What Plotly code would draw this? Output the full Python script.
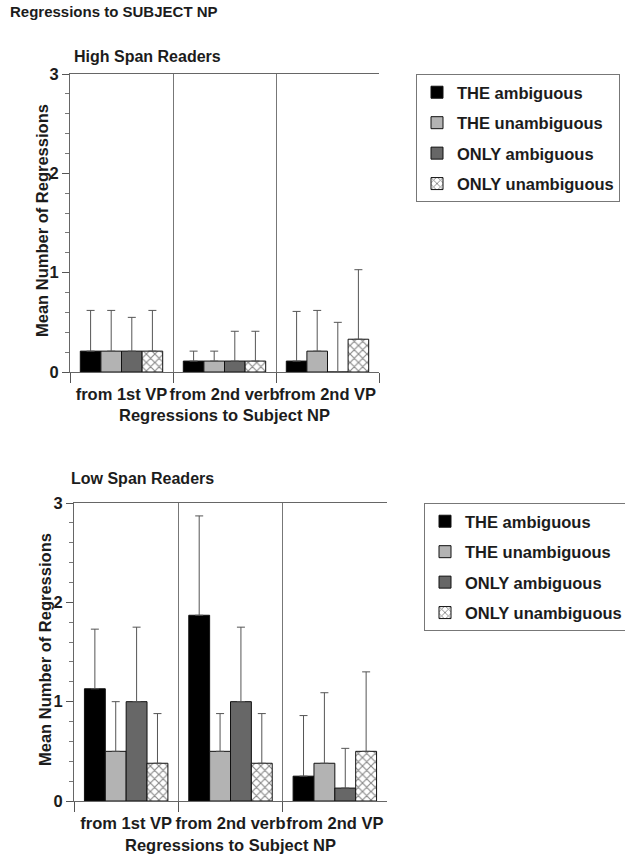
import plotly.graph_objects as go

W, H = 625, 856

categories = ["from 1st VP", "from 2nd verb", "from 2nd VP"]
series_names = ["THE ambiguous", "THE unambiguous", "ONLY ambiguous", "ONLY unambiguous"]

# High span readers: means and upper error-bar tops
high_means = {
    "THE ambiguous":    [0.21, 0.11, 0.11],
    "THE unambiguous":  [0.21, 0.11, 0.21],
    "ONLY ambiguous":   [0.21, 0.11, 0.00],
    "ONLY unambiguous": [0.21, 0.11, 0.33],
}
high_err_top = {
    "THE ambiguous":    [0.62, 0.21, 0.61],
    "THE unambiguous":  [0.62, 0.21, 0.62],
    "ONLY ambiguous":   [0.55, 0.41, 0.50],
    "ONLY unambiguous": [0.62, 0.41, 1.03],
}
# Low span readers
low_means = {
    "THE ambiguous":    [1.13, 1.87, 0.25],
    "THE unambiguous":  [0.50, 0.50, 0.38],
    "ONLY ambiguous":   [1.00, 1.00, 0.13],
    "ONLY unambiguous": [0.38, 0.38, 0.50],
}
low_err_top = {
    "THE ambiguous":    [1.73, 2.87, 0.86],
    "THE unambiguous":  [1.00, 0.88, 1.09],
    "ONLY ambiguous":   [1.75, 1.75, 0.53],
    "ONLY unambiguous": [0.88, 0.88, 1.30],
}

styles = {
    "THE ambiguous":    dict(color="#000000"),
    "THE unambiguous":  dict(color="#b3b3b3"),
    "ONLY ambiguous":   dict(color="#676767"),
    "ONLY unambiguous": dict(color="#ffffff",
                             pattern=dict(shape="x", fgcolor="#111111", bgcolor="#ffffff",
                                          size=6, solidity=0.35)),
}

FONT = "Liberation Sans, Arial, sans-serif"
TXT = "#1c1c1c"

def px_x(p):
    return p / W

def px_y(p):
    return 1 - p / H

fig = go.Figure()

for panel, (means, tops, xa, ya, leg) in enumerate([
    (high_means, high_err_top, "x", "y", "legend"),
    (low_means, low_err_top, "x2", "y2", "legend2"),
]):
    for name in series_names:
        vals = means[name]
        errs = [t - v for t, v in zip(tops[name], vals)]
        fig.add_trace(go.Bar(
            x=categories, y=vals, name=name,
            xaxis=xa, yaxis=ya, legend=leg, legendgroup=f"{leg}-{name}",
            marker=dict(line=dict(color="#111111", width=1), **styles[name]),
            error_y=dict(type="data", array=errs, arrayminus=[0] * len(errs),
                         symmetric=False, color="#555555", thickness=1, width=4),
        ))

axis_common_x = dict(
    type="category", tickson="boundaries", ticks="outside", ticklen=10,
    tickcolor="#555555", showline=True, linecolor="#666666", linewidth=1,
    mirror=True, showgrid=True, gridcolor="#777777", gridwidth=1,
    tickangle=0, automargin=False, ticklabelstandoff=7,
    tickfont=dict(family=FONT, size=16.5, color=TXT, weight="bold"),
    zeroline=False, fixedrange=True,
)
axis_common_y = dict(
    range=[0, 3], dtick=1, ticks="outside", ticklen=7, tickcolor="#555555",
    showline=True, linecolor="#666666", linewidth=1, showgrid=False, zeroline=False,
    minor=dict(dtick=0.2, ticks="outside", ticklen=4, tickcolor="#777777", showgrid=False),
    tickfont=dict(family=FONT, size=16.5, color=TXT, weight="bold"),
    automargin=False, fixedrange=True,
)

top_box = (70, 379, 74, 372)
bot_box = (74, 387, 503, 801)

legend_common = dict(
    xanchor="left", yanchor="top",
    bordercolor="#777777", borderwidth=1, bgcolor="white",
    font=dict(family=FONT, size=16.5, color=TXT, weight="bold"),
    tracegroupgap=6, itemwidth=30,
)

fig.update_layout(
    width=W, height=H,
    margin=dict(l=0, r=0, t=0, b=0, autoexpand=False),
    paper_bgcolor="white", plot_bgcolor="white",
    barmode="group", bargap=0.2, bargroupgap=0,
    xaxis=dict(domain=[px_x(top_box[0]), px_x(top_box[1])], anchor="y", **axis_common_x),
    yaxis=dict(domain=[px_y(top_box[3]), px_y(top_box[2])], anchor="x", **axis_common_y),
    xaxis2=dict(domain=[px_x(bot_box[0]), px_x(bot_box[1])], anchor="y2", **axis_common_x),
    yaxis2=dict(domain=[px_y(bot_box[3]), px_y(bot_box[2])], anchor="x2", **axis_common_y),
    legend=dict(x=px_x(416), y=px_y(74), **legend_common),
    legend2=dict(x=px_x(424), y=px_y(503), **legend_common),
    showlegend=True,
)

ann_font = dict(family=FONT, color=TXT, weight="bold")
annotations = [
    dict(text="Regressions to SUBJECT NP", x=px_x(8), y=px_y(12), xanchor="left", yanchor="middle",
         font=dict(size=15, **ann_font)),
    dict(text="High Span Readers", x=px_x(72), y=px_y(57), xanchor="left", yanchor="middle",
         font=dict(size=16, **ann_font)),
    dict(text="Low Span Readers", x=px_x(69), y=px_y(478), xanchor="left", yanchor="middle",
         font=dict(size=16, **ann_font)),
    dict(text="Mean Number of Regressions", x=px_x(42), y=px_y(221), textangle=-90,
         xanchor="center", yanchor="middle", font=dict(size=16.5, **ann_font)),
    dict(text="Mean Number of Regressions", x=px_x(45), y=px_y(650), textangle=-90,
         xanchor="center", yanchor="middle", font=dict(size=16.5, **ann_font)),
    dict(text="Regressions to Subject NP", x=px_x(224), y=px_y(415),
         xanchor="center", yanchor="middle", font=dict(size=16.5, **ann_font)),
    dict(text="Regressions to Subject NP", x=px_x(230), y=px_y(845),
         xanchor="center", yanchor="middle", font=dict(size=16.5, **ann_font)),
]
for a in annotations:
    a.update(xref="paper", yref="paper", showarrow=False)
fig.update_layout(annotations=annotations)

fig.write_html("out.html")
